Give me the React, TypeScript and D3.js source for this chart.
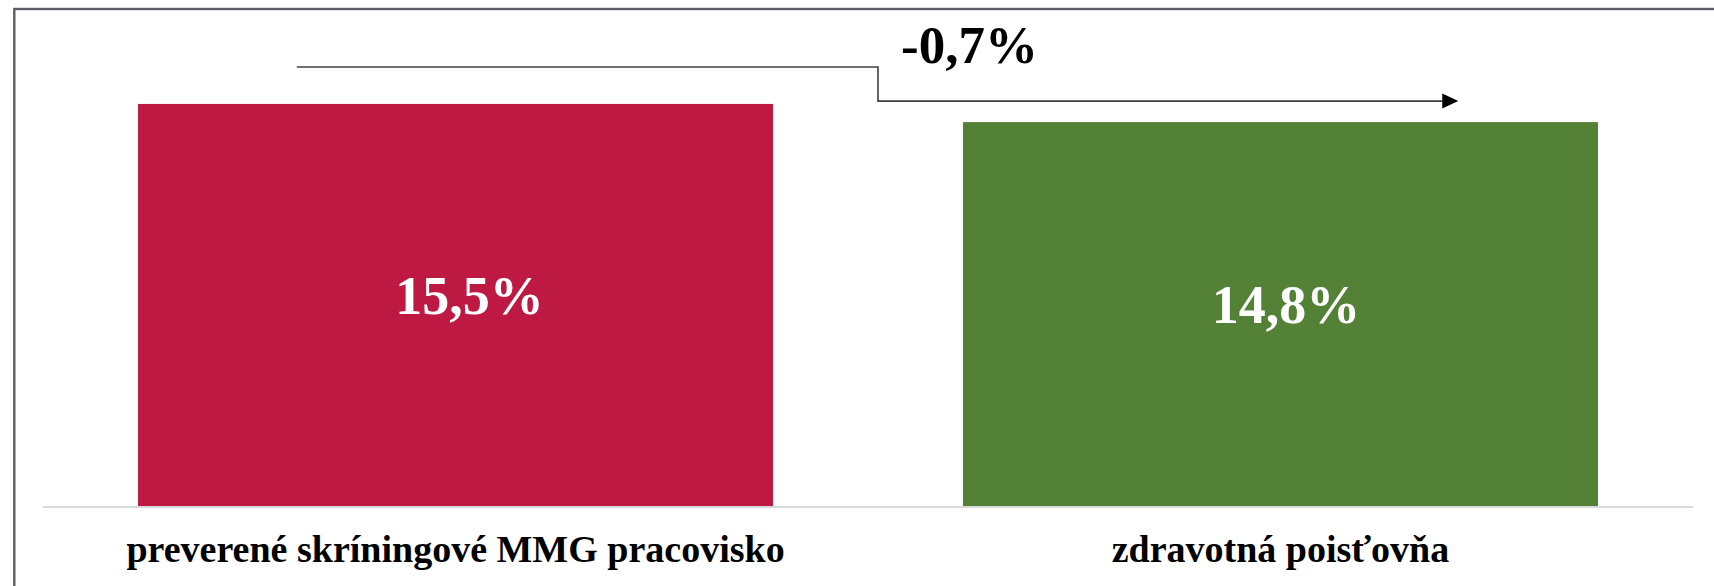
import React from "react";
import * as d3 from "d3";

const categories = ["preverené skríningové MMG pracovisko", "zdravotná poisťovňa"];
const values = [15.5, 14.8];
const valueLabels = ["15,5%", "14,8%"];
const changeLabel = "-0,7%";
const barColors = ["#BE1942", "#538135"];
const yDomain = [0, 18];

const W = 1714;
const H = 586;
const plotLeft = 43;
const plotRight = 1693;
const baseY = 506.5;
const plotTop = 39;
const labelDx = [14, 5.5];
const FONT = "'Liberation Serif', 'Times New Roman', serif";

export default function App() {
  const x = d3
    .scaleBand<string>()
    .domain(categories)
    .range([plotLeft, plotRight])
    .paddingInner(0.2303)
    .paddingOuter(0.1152);
  const y = d3.scaleLinear().domain(yDomain).range([baseY, plotTop]);

  const bw = x.bandwidth();
  const x0 = x(categories[0])!;
  const x1 = x(categories[1])!;
  const yTop0 = y(values[0]);
  const yTop1 = y(values[1]);

  const startX = x0 + bw * 0.25;
  const hiY = yTop0 - 37;
  const loY = yTop1 - 21;
  const midX = (x0 + bw + x1) / 2 + 10;
  const tipX = x1 + bw * 0.78;
  const headLen = 16;
  const headHalf = 7.5;
  const arrowPath = d3.path();
  arrowPath.moveTo(startX, hiY);
  arrowPath.lineTo(midX, hiY);
  arrowPath.lineTo(midX, loY);
  arrowPath.lineTo(tipX - headLen, loY);

  return (
    <svg
      width={W}
      height={H}
      style={{ position: "fixed", left: 0, top: 0, background: "#fff" }}
    >
      <rect x={0} y={0} width={W} height={H} fill="#fff" />
      <rect
        x={14.3}
        y={9}
        width={W + 100}
        height={H + 100}
        fill="none"
        stroke="#605c66"
        strokeWidth={2.4}
      />
      {categories.map((c, i) => {
        const bx = x(c)!;
        const top = y(values[i]);
        return (
          <g key={c}>
            <rect
              x={bx}
              y={top}
              width={bw}
              height={baseY - top}
              fill={barColors[i]}
            />
            <text
              x={bx + bw / 2 + labelDx[i]}
              y={(top + baseY) / 2 + 8.5}
              textAnchor="middle"
              fill="#fff"
              fontFamily={FONT}
              fontWeight="bold"
              fontSize={54}
            >
              {valueLabels[i]}
            </text>
            <text
              x={bx + bw / 2}
              y={562}
              textAnchor="middle"
              fill="#000"
              fontFamily={FONT}
              fontWeight="bold"
              fontSize={38}
            >
              {c}
            </text>
          </g>
        );
      })}
      <line
        x1={plotLeft}
        x2={plotRight}
        y1={baseY + 0.5}
        y2={baseY + 0.5}
        stroke="#d9d9d9"
        strokeWidth={2}
      />
      <path
        d={arrowPath.toString()}
        fill="none"
        stroke="#404040"
        strokeWidth={1.6}
      />
      <path
        d={`M${tipX},${loY} L${tipX - headLen},${loY - headHalf} L${tipX - headLen},${loY + headHalf} Z`}
        fill="#000"
      />
      <text
        x={midX + 23}
        y={63}
        textAnchor="start"
        fill="#000"
        fontFamily={FONT}
        fontWeight="bold"
        fontSize={53}
      >
        {changeLabel}
      </text>
    </svg>
  );
}
